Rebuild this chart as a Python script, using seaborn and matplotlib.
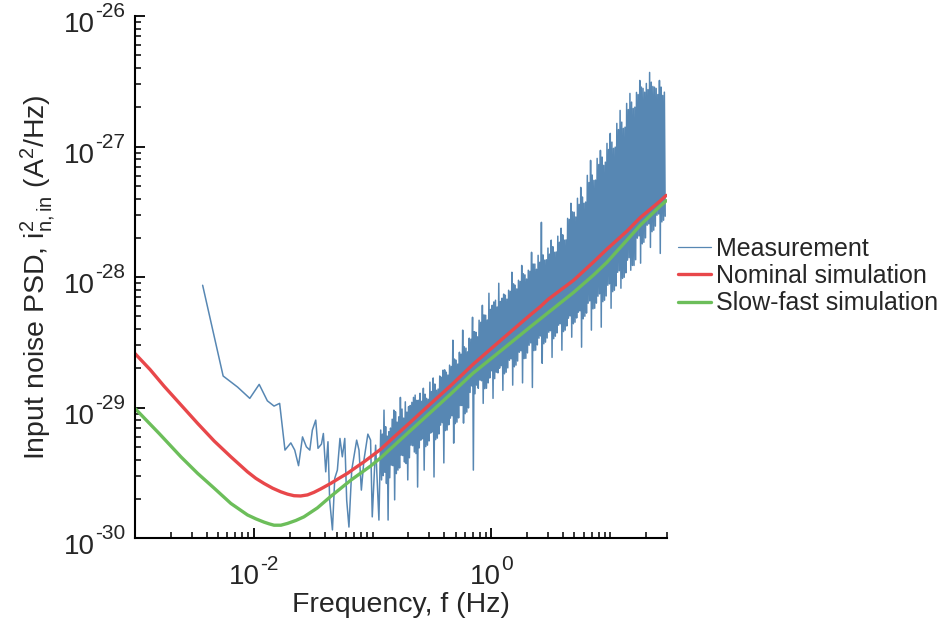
import numpy as np
import pandas as pd
import matplotlib
matplotlib.use("Agg")
import matplotlib.pyplot as plt
import seaborn as sns
from matplotlib.ticker import FixedLocator, NullFormatter
from matplotlib.transforms import IdentityTransform

# PSD values are given in units of 1e-30 A^2/Hz, frequencies in Hz.
UNIT = 1e-30

# Measured spectrum, low-frequency bins
meas_lf_freq = [0.00371, 0.00552, 0.00730, 0.00925, 0.0111, 0.0130, 0.0148, 0.0165,
                0.0183, 0.0205, 0.0221, 0.0238, 0.0257, 0.0277, 0.0296, 0.0311,
                0.0332, 0.0347, 0.0371, 0.0385, 0.0403, 0.0421, 0.0435, 0.0459,
                0.0480, 0.0505, 0.0531, 0.0556, 0.0583, 0.0605, 0.0632, 0.0667,
                0.0689, 0.0734, 0.0768, 0.0804, 0.0845, 0.0912, 0.0961, 0.0993,
                0.106, 0.113]
meas_lf_psd = [86.7, 17.5, 14.4, 11.8, 15.1, 11.3, 10.3, 10.8,
               4.74, 5.38, 4.74, 3.60, 5.98, 5.02, 4.74, 6.74,
               8.04, 4.89, 5.27, 6.35, 3.23, 5.49, 1.96, 1.16,
               2.88, 3.33, 5.82, 4.21, 5.82, 1.96, 1.22, 3.33,
               3.97, 5.65, 4.74, 2.34, 3.97, 6.28, 5.65, 1.46,
               5.17, 1.38]

# Measured spectrum, dense high-frequency bins (log-spaced from HF_START to HF_STOP)
HF_START, HF_STOP = 0.117, 29.0
meas_hf_psd = [
    6.75, 2.80, 6.28, 3.02, 9.59, 3.21, 7.16, 2.63, 6.06, 1.38, 6.55, 2.91,
    6.99, 3.64, 8.17, 3.60, 9.59, 1.97, 9.31, 3.13, 7.76, 3.33, 8.52, 3.46,
    12.0, 4.34, 9.77, 4.30, 8.33, 3.84, 11.1, 3.74, 9.26, 2.80, 10.2, 4.14,
    10.4, 5.17, 11.0, 5.12, 12.0, 4.58, 12.5, 4.46, 11.4, 2.47, 11.4, 4.93,
    12.9, 5.65, 11.2, 5.79, 14.1, 3.33, 12.7, 5.04, 11.8, 5.17, 11.6, 5.57,
    15.7, 6.40, 13.3, 6.54, 16.9, 2.95, 15.2, 5.70, 13.6, 5.85, 13.9, 6.30,
    17.5, 7.36, 17.1, 7.69, 19.4, 3.78, 19.5, 6.69, 18.7, 6.75, 17.8, 7.40,
    21.2, 8.33, 20.7, 8.68, 32.9, 5.36, 23.6, 7.56, 23.1, 7.76, 21.6, 8.36,
    26.6, 10.4, 25.7, 10.4, 39.3, 7.63, 29.3, 9.01, 28.6, 9.26, 26.8, 9.97,
    34.1, 13.1, 33.5, 14.7, 49.3, 3.33, 38.2, 12.8, 37.9, 14.9, 34.9, 14.1,
    46.8, 16.3, 45.1, 16.1, 60.9, 10.8, 51.4, 14.0, 51.1, 14.1, 47.0, 15.5,
    75.3, 16.9, 56.6, 19.2, 60.9, 11.8, 64.6, 16.7, 66.6, 18.7, 59.1, 18.5,
    89.8, 20.1, 65.1, 21.0, 69.0, 13.6, 74.2, 18.2, 72.7, 18.7, 67.9, 20.2,
    79.4, 23.1, 77.9, 23.7, 109, 14.9, 88.8, 20.6, 86.7, 21.2, 81.3, 22.8,
    94.7, 26.6, 92.8, 27.3, 123, 15.5, 106, 23.8, 104, 23.9, 96.8, 26.3,
    113, 30.1, 111, 31.4, 155, 14.3, 126, 27.4, 126, 27.6, 115, 30.3,
    147, 34.1, 130, 35.5, 263, 21.9, 148, 30.9, 135, 31.8, 136, 34.2,
    167, 37.9, 150, 38.9, 192, 24.3, 171, 33.8, 155, 35.3, 156, 37.4,
    206, 42.9, 185, 44.0, 237, 27.6, 211, 38.3, 192, 39.3, 193, 42.3,
    282, 48.5, 277, 50.5, 368, 34.7, 316, 44.0, 314, 45.2, 289, 48.7,
    402, 53.9, 361, 55.2, 487, 29.1, 411, 48.0, 368, 50.2, 376, 53.1,
    602, 63.2, 531, 65.8, 784, 39.3, 605, 57.2, 551, 57.8, 554, 63.3,
    812, 71.5, 729, 74.5, 935, 41.4, 831, 64.9, 718, 66.6, 760, 71.8,
    1058, 86.7, 950, 88.9, 1262, 57.8, 1082, 77.4, 969, 79.4, 990, 85.6,
    1505, 109, 1350, 112, 1892, 82.3, 1539, 97.8, 1378, 99.8, 1408, 108,
    2141, 135, 1922, 141, 2553, 113, 2191, 123, 1960, 123, 2005, 136,
    2599, 199, 2504, 207, 3210, 128, 2854, 180, 2789, 185, 2611, 200,
    3045, 250, 2733, 256, 3697, 169, 3115, 223, 2889, 229, 2851, 246,
    2789, 298, 2503, 305, 3210, 152, 2854, 265, 2465, 273, 2611, 293,
]

# Nominal simulation
nominal_freq = [0.001, 0.00134, 0.00176, 0.00244, 0.00337, 0.00464, 0.00641, 0.00885,
                0.0104, 0.0122, 0.0144, 0.0169, 0.0192, 0.0218, 0.0248, 0.0283,
                0.0321, 0.0366, 0.0443, 0.0521, 0.0612, 0.0719, 0.0845, 0.0994,
                0.117, 0.153, 0.2, 0.3, 0.452, 0.7, 1.0, 1.5, 2.13, 2.58, 3.0,
                4.92, 7.25, 9.38, 13.8, 17.9, 26.3, 29.6]
nominal_psd = [26.0, 19.6, 14.6, 10.5, 7.58, 5.56, 4.21, 3.23,
               2.88, 2.63, 2.42, 2.27, 2.18, 2.12, 2.11, 2.15,
               2.25, 2.39, 2.63, 2.88, 3.14, 3.48, 3.85, 4.30,
               4.81, 6.02, 7.50, 10.5, 14.7, 21.5, 28.5, 39.2, 51.5, 59.5, 67.6,
               94.7, 131, 164, 225, 286, 383, 423]

# Slow-fast simulation
slowfast_freq = [0.001, 0.0016, 0.00244, 0.00337, 0.00464, 0.00641, 0.00885, 0.0104,
                 0.0122, 0.0135, 0.0148, 0.0169, 0.0192, 0.0226, 0.0264, 0.0343,
                 0.0443, 0.0653, 0.0962, 0.117, 0.2, 0.3, 0.452,
                 0.7, 1.0, 1.5, 2.13, 3.0, 4.92, 7.25, 9.38, 13.8, 17.9, 26.3, 29.6]
slowfast_psd = [9.88, 6.34, 4.20, 3.14, 2.42, 1.85, 1.51, 1.41,
                1.33, 1.29, 1.26, 1.26, 1.30, 1.37, 1.46, 1.71,
                2.09, 2.78, 3.58, 4.14, 6.47, 9.04, 12.7,
                18.4, 23.9, 32.2, 41.7, 53.5, 76.5, 104, 130, 192, 250, 350, 385]

series_labels = ["Measurement", "Nominal simulation", "Slow-fast simulation"]
series_colors = ["#5787B3", "#E8474A", "#6CBE5A"]

# Decade exponents that carry a label on each axis
x_label_exps = [-2, 0]
y_label_exps = [-30, -29, -28, -27, -26]

hf_freq = np.geomspace(HF_START, HF_STOP, len(meas_hf_psd))
meas = pd.DataFrame({
    "freq": np.concatenate([meas_lf_freq, hf_freq]),
    "psd": np.concatenate([meas_lf_psd, meas_hf_psd]) * UNIT,
})
nominal = pd.DataFrame({"freq": nominal_freq, "psd": np.array(nominal_psd) * UNIT})
slowfast = pd.DataFrame({"freq": slowfast_freq, "psd": np.array(slowfast_psd) * UNIT})

sns.set_theme(style="ticks")
plt.rcParams["font.family"] = ["Liberation Sans", "DejaVu Sans"]
plt.rcParams["mathtext.fontset"] = "custom"
plt.rcParams["mathtext.rm"] = "Liberation Sans"
plt.rcParams["mathtext.it"] = "Liberation Sans:italic"
plt.rcParams["mathtext.bf"] = "Liberation Sans:bold"

fig = plt.figure(figsize=(9.42, 6.28), dpi=100)
ax = fig.add_axes([0.1433, 0.1428, 0.5647, 0.8317])

sns.lineplot(data=meas, x="freq", y="psd", ax=ax, color=series_colors[0],
             lw=1.1, estimator=None, label=series_labels[0])
sns.lineplot(data=nominal, x="freq", y="psd", ax=ax, color=series_colors[1],
             lw=2.4, estimator=None, label=series_labels[1])
sns.lineplot(data=slowfast, x="freq", y="psd", ax=ax, color=series_colors[2],
             lw=2.4, estimator=None, label=series_labels[2])

ax.set_xscale("log")
ax.set_yscale("log")
ax.set_xlim(1e-3, 30)
ax.set_ylim(1e-30, 1e-26)

x_major = [10.0 ** e for e in x_label_exps]
x_minor = [k * 10.0 ** e for e in range(-3, 2) for k in range(1, 10)
           if k * 10.0 ** e <= 30 and not (k == 1 and e in x_label_exps)]
y_major = [10.0 ** e for e in y_label_exps]
y_minor = [k * 10.0 ** e for e in range(-30, -26) for k in range(2, 10)]
ax.xaxis.set_major_locator(FixedLocator(x_major))
ax.xaxis.set_minor_locator(FixedLocator(x_minor))
ax.yaxis.set_major_locator(FixedLocator(y_major))
ax.yaxis.set_minor_locator(FixedLocator(y_minor))
for axis in (ax.xaxis, ax.yaxis):
    axis.set_major_formatter(NullFormatter())
    axis.set_minor_formatter(NullFormatter())

sns.despine(ax=ax)
for side in ("left", "bottom"):
    ax.spines[side].set_linewidth(1.5)
    ax.spines[side].set_color("black")
ax.tick_params(which="major", direction="in", length=7.5, width=1.3, colors="black")
ax.tick_params(which="minor", direction="in", length=4.5, width=1.1, colors="black")

ax.set_xlabel("Frequency, f (Hz)", fontsize=20.5)
ax.set_ylabel(r"Input noise PSD, $\mathregular{i^{2}_{n,in}}$ (A$\mathregular{^{2}}$/Hz)",
              fontsize=20.5)
ax.xaxis.set_label_coords(0.5, -0.102)
ax.yaxis.set_label_coords(-0.146, 0.5)

leg = ax.legend(loc="center left", bbox_to_anchor=(678 / 942, 1 - 276 / 628),
                bbox_transform=fig.transFigure, frameon=False, borderpad=0,
                borderaxespad=0, handlelength=1.3, handletextpad=0.2,
                labelspacing=0.14, fontsize=18)
leg.get_lines()[0].set_linewidth(0.9)

# Decade tick labels: "10" with a large raised exponent
BASE_SIZE, EXP_SIZE = 20, 15
pix = IdentityTransform()
fig.canvas.draw()
renderer = fig.canvas.get_renderer()
spine_x, spine_y = ax.transAxes.transform((0, 0))


def exponent_text(exp):
    return ("\u2010%d" % -exp) if exp < 0 else "%d" % exp


for e in y_label_exps:
    ty = ax.transData.transform((1e-2, 10.0 ** e))[1]
    sup = fig.text(spine_x - 10, ty - 1, exponent_text(e), ha="right", va="baseline",
                   fontsize=EXP_SIZE, transform=pix)
    left = sup.get_window_extent(renderer).x0
    fig.text(left, ty - 16, "10", ha="right", va="baseline",
             fontsize=BASE_SIZE, transform=pix)

for e in x_label_exps:
    tx = ax.transData.transform((10.0 ** e, 1e-30))[0]
    base = fig.text(0, 0, "10", ha="left", va="baseline", fontsize=BASE_SIZE, transform=pix)
    sup = fig.text(0, 0, exponent_text(e), ha="left", va="baseline",
                   fontsize=EXP_SIZE, transform=pix)
    wb = base.get_window_extent(renderer).width
    ws = sup.get_window_extent(renderer).width
    left = tx - (wb + ws) / 2
    base.set_position((left, spine_y - 46))
    sup.set_position((left + wb, spine_y - 32))

fig.savefig("out.png", dpi=100)
